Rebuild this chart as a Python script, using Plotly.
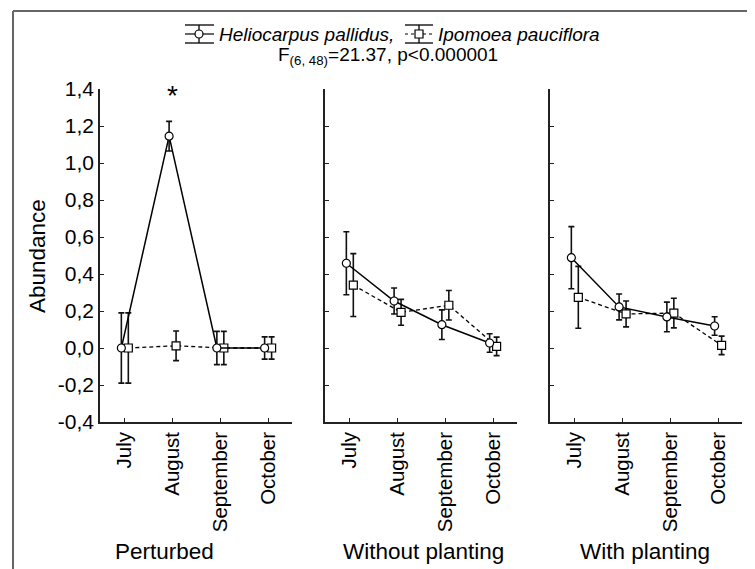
import plotly.graph_objects as go

# ---------------- data ----------------
months = ["July", "August", "September", "October"]
treatments = ["Perturbed", "Without planting", "With planting"]
y_ticks = [-0.4, -0.2, 0.0, 0.2, 0.4, 0.6, 0.8, 1.0, 1.2, 1.4]
y_tick_labels = ["-0,4", "-0,2", "0,0", "0,2", "0,4", "0,6", "0,8", "1,0", "1,2", "1,4"]

helio_perturbed = [0.0, 1.145, 0.0, 0.0]
helio_perturbed_err = [0.19, 0.08, 0.09, 0.06]
ipo_perturbed = [0.0, 0.012, 0.0, 0.0]
ipo_perturbed_err = [0.19, 0.08, 0.09, 0.06]

helio_without = [0.458, 0.254, 0.126, 0.027]
helio_without_err = [0.17, 0.07, 0.08, 0.05]
ipo_without = [0.34, 0.193, 0.231, 0.009]
ipo_without_err = [0.17, 0.07, 0.08, 0.05]

helio_with = [0.488, 0.222, 0.168, 0.119]
helio_with_err = [0.168, 0.07, 0.08, 0.05]
ipo_with = [0.274, 0.184, 0.189, 0.014]
ipo_with_err = [0.167, 0.07, 0.08, 0.05]

helio_name = "Heliocarpus pallidus"
ipo_name = "Ipomoea pauciflora"
stat_text = "F<sub>(6, 48)</sub>=21.37, p&lt;0.000001"

# ---------------- figure ----------------
OFF = 8  # page body margin offset
W, H = 755 - OFF, 569 - OFF
ML, MR, MT, MB = 100 - OFF, 13, 89 - OFF, 147
PW = W - ML - MR
PH = H - MT - MB
FONT = "Liberation Sans, Arial, sans-serif"


def px(x):
    """reference-window pixel x -> paper fraction"""
    return (x - OFF - ML) / PW


def py(y):
    """reference-window pixel y -> paper fraction"""
    return (H - MB - (y - OFF)) / PH


fig = go.Figure()
helio = [helio_perturbed, helio_without, helio_with]
helio_err = [helio_perturbed_err, helio_without_err, helio_with_err]
ipo = [ipo_perturbed, ipo_without, ipo_with]
ipo_err = [ipo_perturbed_err, ipo_without_err, ipo_with_err]

dodge = 0.073
idx = list(range(len(months)))
for k in range(3):
    xa = "x" if k == 0 else f"x{k+1}"
    ya = "y" if k == 0 else f"y{k+1}"
    fig.add_trace(go.Scatter(
        x=[i + dodge for i in idx], y=ipo[k], xaxis=xa, yaxis=ya,
        mode="lines", showlegend=False,
        line=dict(color="black", width=1.3, dash="4px,3px"),
        error_y=dict(type="data", array=ipo_err[k], color="#111",
                     thickness=1.6, width=3),
    ))
    fig.add_trace(go.Scatter(
        x=[i + dodge for i in idx], y=ipo[k], xaxis=xa, yaxis=ya,
        mode="markers", showlegend=False,
        marker=dict(symbol="square", size=8, color="white",
                    line=dict(width=1.2, color="black")),
    ))
    fig.add_trace(go.Scatter(
        x=[i - dodge for i in idx], y=helio[k], xaxis=xa, yaxis=ya,
        mode="lines", showlegend=False,
        line=dict(color="black", width=1.5),
        error_y=dict(type="data", array=helio_err[k], color="#111",
                     thickness=1.6, width=3),
    ))
    fig.add_trace(go.Scatter(
        x=[i - dodge for i in idx], y=helio[k], xaxis=xa, yaxis=ya,
        mode="markers", showlegend=False,
        marker=dict(symbol="circle", size=8, color="white",
                    line=dict(width=1.2, color="black")),
    ))

domains = [(px(100), px(292)), (px(325), px(517)), (px(550), px(742))]
axis_common = dict(showline=True, linecolor="#222", linewidth=1.5,
                   showgrid=False, zeroline=False, mirror=False,
                   ticks="inside", ticklen=4, tickwidth=1, tickcolor="#222")
for k in range(3):
    sfx = "" if k == 0 else str(k + 1)
    fig.layout["xaxis" + sfx] = dict(
        domain=list(domains[k]), range=[-0.52, 3.5], anchor="y" + sfx,
        tickmode="array", tickvals=idx, ticktext=months, tickangle=-90,
        ticklabelstandoff=0,
        tickfont=dict(family=FONT, size=20.5, color="black"), **axis_common)
    fig.layout["yaxis" + sfx] = dict(
        domain=[0, 1], range=[-0.4, 1.4], anchor="x" + sfx,
        tickmode="array", tickvals=y_ticks,
        ticktext=y_tick_labels if k == 0 else [""] * len(y_ticks),
        showticklabels=(k == 0),
        tickfont=dict(family=FONT, size=21, color="black"), **axis_common)

annotations = []
# panel titles
title_x = [164, 423, 645]
for k in range(3):
    annotations.append(dict(text=treatments[k], xref="paper", yref="paper",
                            x=px(title_x[k]), y=py(551), showarrow=False,
                            font=dict(family=FONT, size=22.5, color="black"),
                            xanchor="center", yanchor="middle"))
# y axis title
annotations.append(dict(text="Abundance", xref="paper", yref="paper",
                        x=px(37), y=py(256), textangle=-90, showarrow=False,
                        font=dict(family=FONT, size=22.5, color="black"),
                        xanchor="center", yanchor="middle"))
# significance asterisk
annotations.append(dict(text="*", xref="x", yref="y", x=1, y=1.365,
                        showarrow=False, yanchor="middle",
                        font=dict(family=FONT, size=28, color="black")))
# legend / stats texts
annotations.append(dict(text=f"<i>{helio_name},</i>", xref="paper", yref="paper",
                        x=px(217), y=py(34), xanchor="left", yanchor="middle",
                        showarrow=False,
                        font=dict(family=FONT, size=19, color="black")))
annotations.append(dict(text=f"<i>{ipo_name}</i>", xref="paper", yref="paper",
                        x=px(436), y=py(34), xanchor="left", yanchor="middle",
                        showarrow=False,
                        font=dict(family=FONT, size=19, color="black")))
annotations.append(dict(text=stat_text, xref="paper", yref="paper",
                        x=px(388), y=py(56), xanchor="center", yanchor="middle",
                        showarrow=False,
                        font=dict(family=FONT, size=19, color="black")))

shapes = []
# outer frame (top and left)
frame = dict(color="#666", width=2)
shapes.append(dict(type="line", xref="paper", yref="paper",
                   x0=px(13), x1=px(756), y0=py(11), y1=py(11), line=frame))
shapes.append(dict(type="line", xref="paper", yref="paper",
                   x0=px(13), x1=px(13), y0=py(11), y1=py(570), line=frame))


def legend_symbol(cx, x0, x1, dashed, marker):
    ln = dict(color="black", width=1.3)
    out = [
        dict(type="line", xref="paper", yref="paper", x0=px(x0), x1=px(x1),
             y0=py(25), y1=py(25), line=ln),
        dict(type="line", xref="paper", yref="paper", x0=px(x0), x1=px(x1),
             y0=py(43), y1=py(43), line=ln),
        dict(type="line", xref="paper", yref="paper", x0=px(x0), x1=px(x1),
             y0=py(34), y1=py(34),
             line=dict(color="black", width=1.2, dash="dot" if dashed else "solid")),
        dict(type="line", xref="paper", yref="paper", x0=px(cx), x1=px(cx),
             y0=py(25), y1=py(43), line=ln),
    ]
    out.append(dict(type=marker, xref="paper", yref="paper",
                    x0=px(cx - 4), x1=px(cx + 4), y0=py(30), y1=py(38),
                    fillcolor="white", line=dict(color="black", width=1.2)))
    return out


shapes += legend_symbol(199, 185, 214, False, "circle")
shapes += legend_symbol(419, 405, 433, True, "rect")

fig.update_layout(
    width=W, height=H, margin=dict(l=ML, r=MR, t=MT, b=MB),
    paper_bgcolor="white", plot_bgcolor="white",
    font=dict(family=FONT, color="black"),
    annotations=annotations, shapes=shapes, showlegend=False,
)

fig.write_html("out.html")
